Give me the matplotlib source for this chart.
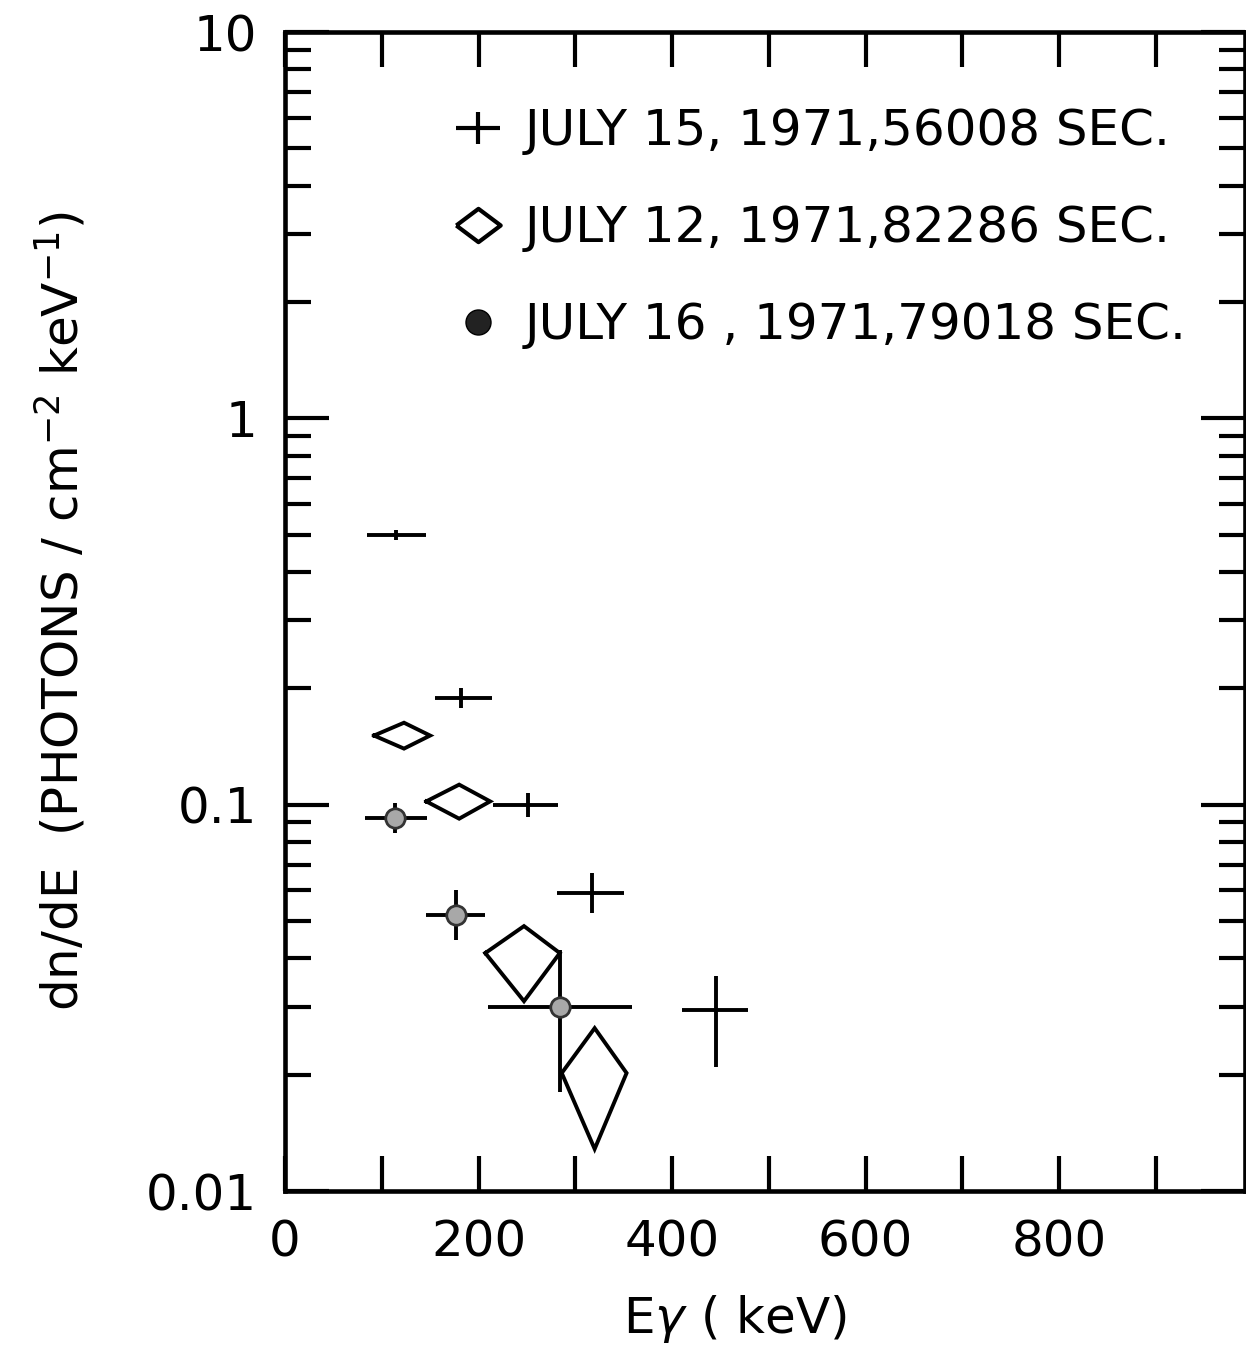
import matplotlib

matplotlib.use("Agg")
import matplotlib.pyplot as plt
import numpy as np
from matplotlib import ticker
from matplotlib.lines import Line2D
from matplotlib.path import Path

# July 15, 1971 (crosses: error bars only)
cross_x = [115, 182, 251, 317, 445]
cross_xlo = [85, 155, 215, 281, 410]
cross_xhi = [146, 214, 282, 350, 478]
cross_y = [0.50, 0.189, 0.100, 0.059, 0.0294]
cross_ylo = [0.485, 0.178, 0.093, 0.0524, 0.021]
cross_yhi = [0.515, 0.200, 0.107, 0.0665, 0.0361]

# July 12, 1971 (diamonds spanning the error ranges)
diam_x = [123, 180, 247, 320]
diam_xlo = [92, 146, 207, 286]
diam_xhi = [150, 212, 284, 353]
diam_y = [0.151, 0.102, 0.0413, 0.0202]
diam_ylo = [0.1397, 0.092, 0.031, 0.01285]
diam_yhi = [0.163, 0.1127, 0.0485, 0.0264]

# July 16, 1971 (filled dots with error bars)
dot_x = [114, 177, 284]
dot_xlo = [83, 146, 210]
dot_xhi = [147, 207, 359]
dot_y = [0.0925, 0.0518, 0.030]
dot_ylo = [0.0846, 0.0446, 0.018]
dot_yhi = [0.101, 0.0601, 0.042]

legend_labels = [
    "JULY 15, 1971,56008 SEC.",
    "JULY 12, 1971,82286 SEC.",
    "JULY 16 , 1971,79018 SEC.",
]
x_tick_labels = {0: "0", 200: "200", 400: "400", 600: "600", 800: "800"}
y_tick_labels = {10: "10", 1: "1", 0.1: "0.1", 0.01: "0.01"}

FS = 36
LW = 2.8

plt.rcParams["font.family"] = ["DejaVu Sans"]
fig = plt.figure(figsize=(12.46, 13.47), dpi=100)
ax = fig.add_axes([0.2287, 0.1158, 0.7705, 0.8604])


def asym_err(center, lo, hi):
    center = np.asarray(center)
    return np.vstack([center - np.asarray(lo), np.asarray(hi) - center])


# Crosses
ax.errorbar(
    cross_x,
    cross_y,
    xerr=asym_err(cross_x, cross_xlo, cross_xhi),
    yerr=asym_err(cross_y, cross_ylo, cross_yhi),
    fmt="none",
    ecolor="black",
    elinewidth=LW,
    capsize=0,
)

# Diamonds drawn from their error extents
for x, xl, xh, y, yl, yh in zip(diam_x, diam_xlo, diam_xhi, diam_y, diam_ylo, diam_yhi):
    ax.plot([xl, x, xh, x, xl], [y, yh, y, yl, y], color="black", linewidth=LW, solid_joinstyle="miter")

# Dots
ax.errorbar(
    dot_x,
    dot_y,
    xerr=asym_err(dot_x, dot_xlo, dot_xhi),
    yerr=asym_err(dot_y, dot_ylo, dot_yhi),
    fmt="o",
    markersize=14,
    markerfacecolor="#a8a8a8",
    markeredgecolor="#333333",
    markeredgewidth=2,
    ecolor="black",
    elinewidth=LW,
    capsize=0,
    zorder=3,
)

# Axes set up
ax.set_yscale("log")
ax.set_xlim(0, 992)
ax.set_ylim(0.01, 10)

ax.xaxis.set_major_locator(ticker.MultipleLocator(100))
ax.xaxis.set_major_formatter(ticker.FuncFormatter(lambda v, pos: x_tick_labels.get(int(round(v)), "")))
ax.yaxis.set_major_locator(ticker.LogLocator(base=10, numticks=10))
ax.yaxis.set_minor_locator(ticker.LogLocator(base=10, subs=np.arange(2, 10), numticks=20))
ax.yaxis.set_major_formatter(
    ticker.FuncFormatter(lambda v, pos: next((t for k, t in y_tick_labels.items() if np.isclose(v, k)), ""))
)
ax.yaxis.set_minor_formatter(ticker.NullFormatter())

ax.tick_params(axis="x", which="major", direction="in", top=True, length=25, width=3, labelsize=FS, pad=20)
ax.tick_params(axis="y", which="major", direction="in", right=True, length=32, width=3, labelsize=FS, pad=20)
ax.tick_params(axis="y", which="minor", direction="in", right=True, length=19, width=3)
for spine in ax.spines.values():
    spine.set_linewidth(3.3)

ax.set_xlabel("E$\\gamma$ ( keV)", fontsize=FS)
ax.xaxis.set_label_coords(0.469, -0.088)
ax.set_ylabel("dn/dE  (PHOTONS / cm$^{-2}$ keV$^{-1}$)", fontsize=FS)
ax.yaxis.set_label_coords(-0.205, 0.5)

# Legend
plus_marker = Path([(-1, 0), (1, 0), (0, -0.7), (0, 0.7)], [Path.MOVETO, Path.LINETO, Path.MOVETO, Path.LINETO])
diamond_marker = Path([(-1, 0), (0, 0.75), (1, 0), (0, -0.75), (-1, 0)])
handles = [
    Line2D([], [], linestyle="none", marker=plus_marker, markersize=32, markeredgewidth=3, color="black"),
    Line2D([], [], linestyle="none", marker=diamond_marker, markersize=32, markeredgewidth=3,
           markerfacecolor="white", markeredgecolor="black"),
    Line2D([], [], linestyle="none", marker="o", markersize=18, markerfacecolor="#222222",
           markeredgecolor="black"),
]
ax.legend(
    handles,
    legend_labels,
    loc="upper left",
    bbox_to_anchor=(0.175, 0.935),
    frameon=False,
    fontsize=FS,
    handlelength=1.0,
    handletextpad=0.44,
    labelspacing=0.98,
    borderpad=0,
    borderaxespad=0,
)

plt.savefig("out.png", dpi=100)
